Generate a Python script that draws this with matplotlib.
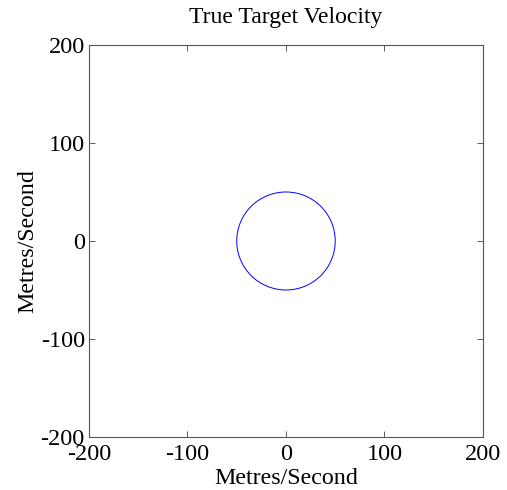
import matplotlib
matplotlib.use('Agg')
import matplotlib.pyplot as plt
from matplotlib.patches import Circle

# target velocity components (m/s): centre of the velocity circle and its speed
centre_vx = 0.0
centre_vy = 0.0
target_speed = 50.0

axis_limits = [-200, 200]
tick_values = [-200, -100, 0, 100, 200]
tick_labels = ['-200', '-100', '0', '100', '200']

plt.rcParams['font.family'] = ['Liberation Serif', 'DejaVu Serif']

fig = plt.figure(figsize=(5.07, 4.90), dpi=100)
ax = fig.add_axes([0.1755, 0.1082, 0.7771, 0.8])

ax.add_patch(Circle((centre_vx, centre_vy), target_speed, fill=False,
                    edgecolor='#0000ff', linewidth=0.7))

ax.set_xlim(axis_limits)
ax.set_ylim(axis_limits)
ax.set_xticks(tick_values)
ax.set_yticks(tick_values)
ax.set_xticklabels(tick_labels)
ax.set_yticklabels(tick_labels)
ax.tick_params(direction='in', top=True, right=True, length=4, width=0.6,
               labelsize=17.5, pad=3, colors='#404040', labelcolor='black')
ax.tick_params(axis='x', pad=5)
for spine in ax.spines.values():
    spine.set_linewidth(0.8)
    spine.set_color('#555555')

ax.set_title('True Target Velocity', fontsize=17, pad=16)
ax.set_xlabel('Metres/Second', fontsize=17.3, labelpad=2)
ax.set_ylabel('Metres/Second', fontsize=17.3, labelpad=2)

fig.savefig('out.png', dpi=100)
